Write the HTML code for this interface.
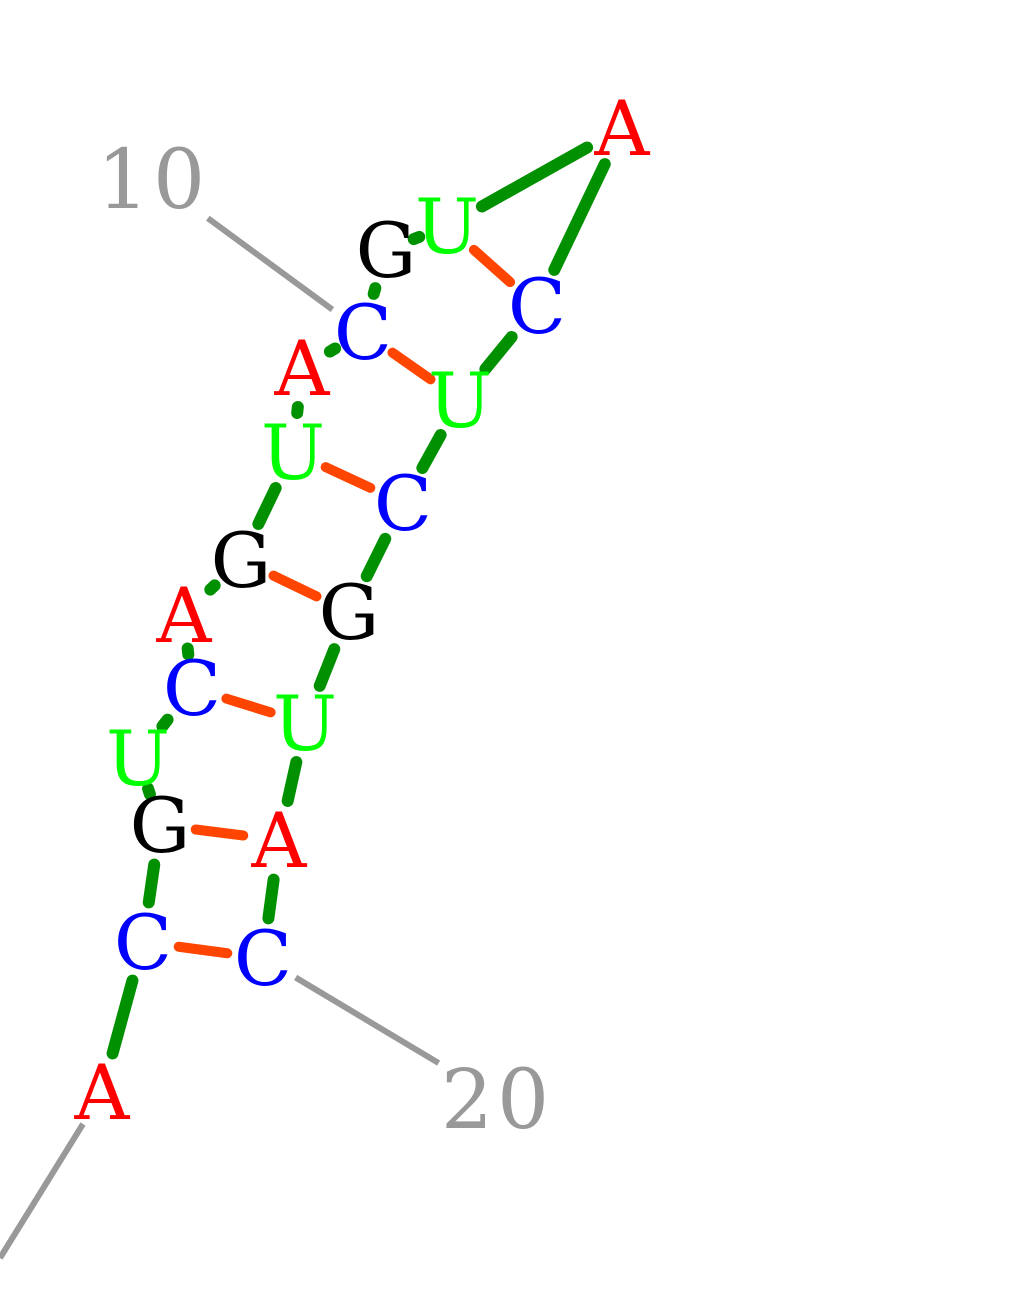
<!DOCTYPE html>
<html><head><meta charset="utf-8"><style>
html,body{margin:0;padding:0;background:#fff;width:1030px;height:1290px;overflow:hidden}
svg{display:block}
text{font-family:"DejaVu Serif","Liberation Serif",serif}
</style></head><body>
<svg id="rna" width="1030" height="1290" viewBox="0 0 1030 1290" xmlns="http://www.w3.org/2000/svg">
<g id="lines"></g><g id="letters"></g><g id="labels"></g>
</svg>
<script>
const bases = ["A","C","G","U","C","A","G","U","A","C","G","U","A","C","U","C","G","U","A","C"];
const baseX = [102,143,160,138,192,184,241,293,302,363,386,447,622,537,460,403,349,305,279,263];
const baseY = [1092,942,825,758,688,615,560,452,368,332,250,226,128,306,400,503,612,723,840,958];
const pairI = [2,3,5,7,8,10,12];
const pairJ = [20,19,18,17,16,15,14];
const numLabels = ["10","20"];
const numIndex = [10,20];
const numX = [153,497];
const numY = [178,1098];
const colors = {A:"#ff0000",C:"#0000ff",G:"#000000",U:"#00ff00"};
const NS="http://www.w3.org/2000/svg";
const gl=document.getElementById('lines'), gt=document.getElementById('letters'), gn=document.getElementById('labels');
function seg(i,j,shrink,color,w,name){
  const x1=baseX[i],y1=baseY[i],x2=baseX[j],y2=baseY[j];
  const dx=x2-x1,dy=y2-y1,d=Math.hypot(dx,dy),ux=dx/d,uy=dy/d;
  let a=shrink,b=d-shrink;
  if(b-a<8){const m=d/2;a=m-3;b=m+3;}
  const l=document.createElementNS(NS,'line');
  l.setAttribute('x1',x1+ux*a);l.setAttribute('y1',y1+uy*a);
  l.setAttribute('x2',x1+ux*b);l.setAttribute('y2',y1+uy*b);
  l.setAttribute('stroke',color);l.setAttribute('stroke-width',w);l.setAttribute('stroke-linecap','round');
  
  
  gl.appendChild(l);
}
for(let k=0;k<bases.length-1;k++){ seg(k,k+1,40,"#009000",12,"backbone-link"); }
for(let k=0;k<pairI.length;k++){ seg(pairI[k]-1,pairJ[k]-1,36,"#ff4500",10,"base-pair"); }
const inl=document.createElementNS(NS,'line');
inl.setAttribute('x1',0);inl.setAttribute('y1',1258);inl.setAttribute('x2',83);inl.setAttribute('y2',1124);
inl.setAttribute('stroke','#999');inl.setAttribute('stroke-width',6);


gl.appendChild(inl);
for(let k=0;k<bases.length;k++){
  const t=document.createElementNS(NS,'text');
  t.setAttribute('x',baseX[k]);t.setAttribute('y',baseY[k]+27);
  t.setAttribute('text-anchor','middle');t.setAttribute('font-size','76');
  t.setAttribute('fill',colors[bases[k]]);
  t.textContent=bases[k];
  
  
  gt.appendChild(t);
}
for(let k=0;k<numLabels.length;k++){
  const idx=numIndex[k]-1, bx=baseX[idx], by=baseY[idx];
  const lx=numX[k], ly=numY[k];
  const dx=lx-bx,dy=ly-by,d=Math.hypot(dx,dy),ux=dx/d,uy=dy/d;
  const l=document.createElementNS(NS,'line');
  l.setAttribute('x1',bx+ux*38);l.setAttribute('y1',by+uy*38);
  l.setAttribute('x2',bx+ux*(d-68));l.setAttribute('y2',by+uy*(d-68));
  l.setAttribute('stroke','#999');l.setAttribute('stroke-width',6);
  
  
  gn.appendChild(l);
  const t=document.createElementNS(NS,'text');
  t.setAttribute('x',lx);t.setAttribute('y',ly+30);
  t.setAttribute('text-anchor','middle');t.setAttribute('font-size','82');
  t.setAttribute('letter-spacing','4');t.setAttribute('fill','#999');
  t.textContent=numLabels[k];
  
  
  gn.appendChild(t);
}
</script>
</body></html>
